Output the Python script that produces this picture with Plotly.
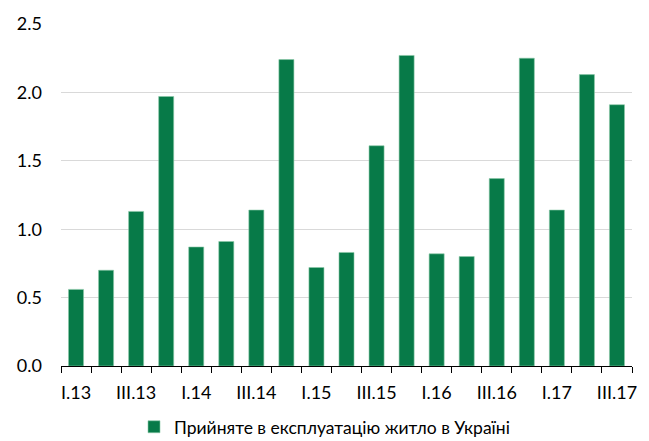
import plotly.graph_objects as go

# Quarterly housing commissioned in Ukraine
quarters = [
    "I.13", "II.13", "III.13", "IV.13",
    "I.14", "II.14", "III.14", "IV.14",
    "I.15", "II.15", "III.15", "IV.15",
    "I.16", "II.16", "III.16", "IV.16",
    "I.17", "II.17", "III.17",
]
values = [
    0.56, 0.70, 1.13, 1.97,
    0.87, 0.91, 1.14, 2.24,
    0.72, 0.83, 1.61, 2.27,
    0.82, 0.80, 1.37, 2.25,
    1.14, 2.13, 1.91,
]
series_name = "Прийняте в експлуатацію житло в Україні"

# label every other quarter, keeping a tick at each boundary
tick_text = [q if i % 2 == 0 else "" for i, q in enumerate(quarters)]

GREEN = "#077A48"
FONT = "Lato, 'Open Sans', sans-serif"
FS = 18

fig = go.Figure(
    go.Bar(
        x=quarters,
        y=values,
        name=series_name,
        marker=dict(color=GREEN, line=dict(color="#8cc9a8", width=0.6)),
        showlegend=True,
    )
)

fig.update_layout(
    width=649,
    height=441,
    margin=dict(l=61, r=17, t=24, b=75, autoexpand=False),
    paper_bgcolor="white",
    plot_bgcolor="white",
    bargap=0.5,
    font=dict(family=FONT, size=FS, color="#000000"),
    legend=dict(
        orientation="h",
        x=0.5,
        xanchor="center",
        xref="container",
        y=-0.178,
        yanchor="middle",
        yref="paper",
        font=dict(size=17.5),
        itemwidth=30,
        tracegroupgap=0,
    ),
)

fig.update_xaxes(
    type="category",
    tickmode="array",
    tickvals=quarters,
    ticktext=tick_text,
    tickson="boundaries",
    ticks="outside",
    ticklen=6,
    tickcolor="#000000",
    showline=True,
    linecolor="#000000",
    linewidth=1,
    showgrid=False,
    tickangle=0,
    ticklabelstandoff=10,
    tickfont=dict(size=FS),
    automargin=False,
)

fig.update_yaxes(
    range=[0, 2.5],
    dtick=0.5,
    tickformat=".1f",
    showgrid=True,
    gridcolor="#d9d9d9",
    gridwidth=1,
    zeroline=False,
    showline=False,
    ticks="",
    ticklabelstandoff=18,
    tickfont=dict(size=FS),
    automargin=False,
)

fig.write_html("out.html")
